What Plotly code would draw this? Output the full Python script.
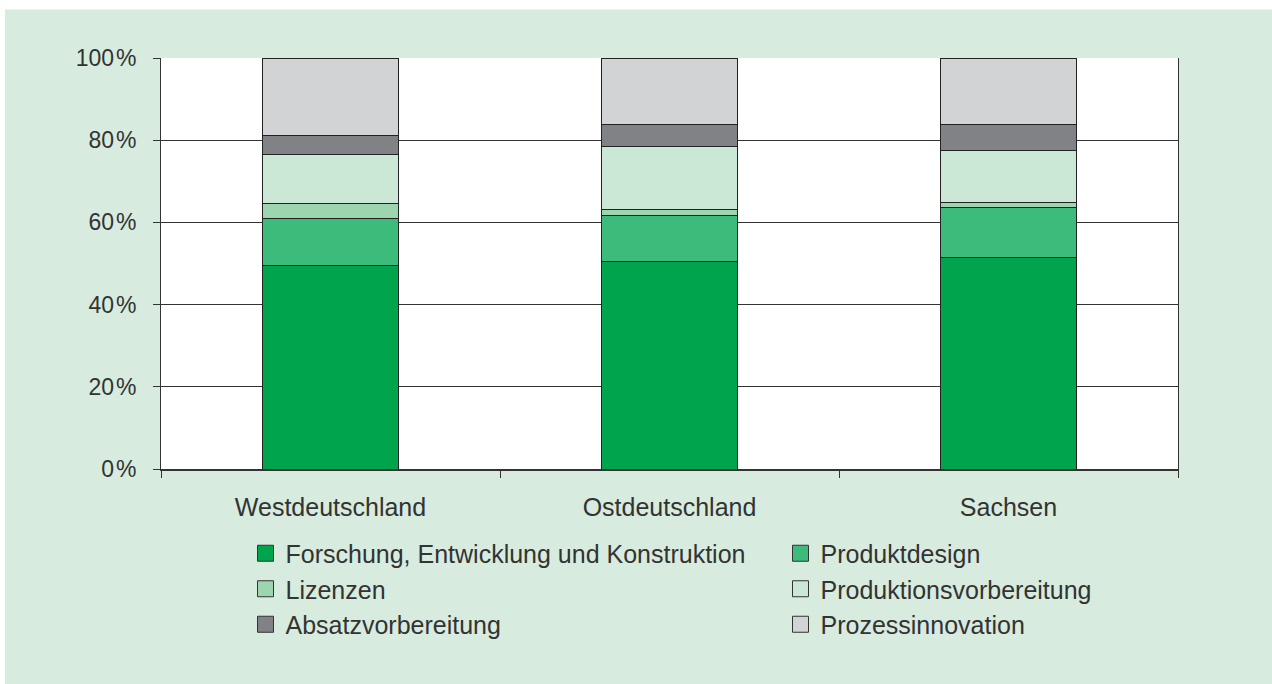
import plotly.graph_objects as go

categories = ["Westdeutschland", "Ostdeutschland", "Sachsen"]
series_names = [
    "Forschung, Entwicklung und Konstruktion",
    "Produktdesign",
    "Lizenzen",
    "Produktionsvorbereitung",
    "Absatzvorbereitung",
    "Prozessinnovation",
]
forschung = [49.5, 50.5, 51.5]
produktdesign = [11.4, 11.3, 12.2]
lizenzen = [3.8, 1.4, 1.2]
produktionsvorbereitung = [11.8, 15.2, 12.7]
absatzvorbereitung = [4.6, 5.5, 6.3]
prozessinnovation = [18.9, 16.1, 16.1]
series_values = [forschung, produktdesign, lizenzen, produktionsvorbereitung,
                 absatzvorbereitung, prozessinnovation]
y_tickvals = [0, 20, 40, 60, 80, 100]
y_ticktext = ["0\u200a%", "20\u200a%", "40\u200a%", "60\u200a%", "80\u200a%", "100\u200a%"]

colors = ["#00A44C", "#3DBB7B", "#9DD5AE", "#CBE7D6", "#808285", "#D1D3D4"]
legend_of = ["legend", "legend2", "legend", "legend2", "legend", "legend2"]

W, H = 1272, 684
ML, MR, MT, MB = 161, 94, 58, 215
PW, PH = W - ML - MR, H - MT - MB
BG = "#D7ECDE"
FONT = "Liberation Sans, Arial, sans-serif"
TXT = "#333333"

def px(x):
    return (x - ML) / PW

def py(y):
    return (H - MB - y) / PH

fig = go.Figure()
for name, vals, col in zip(series_names, series_values, colors):
    fig.add_trace(go.Bar(
        x=categories, y=vals, name=name, showlegend=False,
        marker=dict(color=col, line=dict(color="#222222", width=1)),
        width=0.4,
    ))

for i, (name, col) in enumerate(zip(series_names, colors)):
    fig.add_trace(go.Scatter(
        x=[None], y=[None], mode="markers", name=name,
        legend=legend_of[i], legendgroup=name,
        marker=dict(symbol="square", size=16, color=col,
                    line=dict(color="#333333", width=1)),
        hoverinfo="skip",
    ))

legend_common = dict(
    orientation="v", xanchor="left", yanchor="top",
    bgcolor="rgba(0,0,0,0)", borderwidth=0,
    font=dict(family=FONT, size=25, color=TXT),
    tracegroupgap=0, itemsizing="trace",
)

fig.update_layout(
    width=W, height=H,
    margin=dict(l=ML, r=MR, t=MT, b=MB, pad=0),
    paper_bgcolor=BG, plot_bgcolor="white",
    barmode="stack",
    font=dict(family=FONT, size=25, color=TXT),
    legend=dict(x=px(245.5), y=py(530.5), **legend_common),
    legend2=dict(x=px(780.5), y=py(530.5), **legend_common),
    xaxis=dict(
        type="category", tickson="boundaries", ticks="outside", ticklen=7,
        tickcolor="#333333", tickwidth=1,
        showline=True, linecolor="#333333", linewidth=2,
        showgrid=False, ticklabelstandoff=15,
        tickfont=dict(family=FONT, size=25, color=TXT),
    ),
    yaxis=dict(
        range=[0, 100], tickvals=y_tickvals, ticktext=y_ticktext,
        ticks="outside", ticklen=7, tickcolor="#333333", tickwidth=1,
        showline=True, linecolor="#333333", linewidth=1, mirror=True,
        showgrid=True, gridcolor="#333333", gridwidth=1,
        zeroline=False, ticklabelstandoff=12,
        tickfont=dict(family=FONT, size=23, color=TXT),
    ),
    shapes=[
        dict(type="rect", xref="paper", yref="paper",
             x0=px(0), x1=px(W), y0=py(9.5), y1=py(0),
             fillcolor="white", line=dict(width=0), layer="below"),
        dict(type="rect", xref="paper", yref="paper",
             x0=px(0), x1=px(5), y0=py(H), y1=py(0),
             fillcolor="white", line=dict(width=0), layer="below"),
    ],
)

fig.write_html(
    "out.html",
    config={"displayModeBar": False},
    post_script="document.body.style.margin='0';document.body.style.padding='0';",
)
